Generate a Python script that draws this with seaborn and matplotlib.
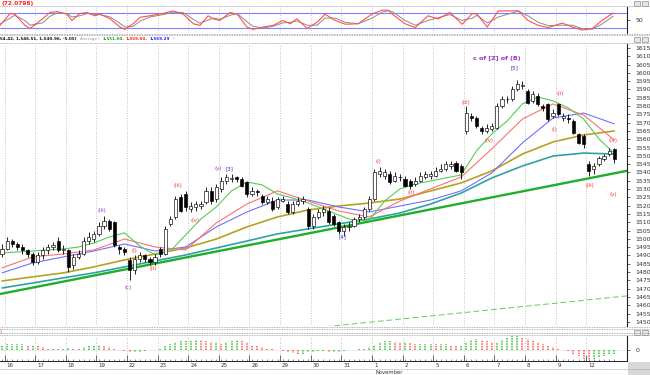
import numpy as np
import pandas as pd
import matplotlib
matplotlib.use("Agg")
import matplotlib.pyplot as plt
from matplotlib.lines import Line2D
from matplotlib.patches import Rectangle
import matplotlib.transforms as mtrans
import seaborn as sns

sns.set_style("white")
plt.rcParams['font.family'] = ['DejaVu Sans']

# ---------------- data ----------------
OPEN = [1491,1494,1499,1497,1495,1493,1491,1486,1490,1493,
        1495,1499,1493,1493,1484,1489,1491,1499,1500,1503,
        1508,1511,1510,1495,1494,1487,1481,1488,1490,1488,
        1486,1494,1491,1509,1513,1525,1527,1518,1519,1520,
        1522,1529,1524,1530,1535,1536,1537,1536,1534,1527,
        1529,1526,1522,1523,1519,1523,1521,1516,1521,1523,
        1518,1508,1513,1516,1517,1514,1510,1505,1507,1508,
        1512,1513,1518,1524,1539,1538,1539,1535,1537,1536,
        1535,1533,1535,1537,1538,1538,1541,1542,1544,1546,
        1544,1565,1574,1573,1567,1565,1566,1567,1580,1584,
        1584,1590,1592,1589,1583,1586,1580,1581,1574,1581,
        1573,1573,1571,1563,1562,1545,1542,1545,1548,1551,1554]
CLOSE = [1494,1499,1497,1495,1493,1491,1486,1490,1493,1495,
         1496,1493,1494,1483,1489,1491,1499,1501,1503,1508,
         1511,1506,1496,1494,1492,1481,1488,1490,1488,1486,
         1489,1491,1506,1512,1524,1517,1519,1520,1521,1521,
         1529,1523,1531,1535,1537,1536,1536,1532,1527,1529,
         1528,1522,1524,1518,1524,1524,1516,1521,1523,1524,
         1508,1513,1516,1518,1510,1509,1505,1507,1508,1512,
         1513,1518,1524,1540,1541,1540,1534,1538,1537,1532,
         1532,1535,1538,1539,1539,1541,1542,1545,1545,1541,
         1540,1576,1573,1568,1565,1567,1568,1580,1584,1584,
         1590,1593,1592,1582,1587,1581,1579,1572,1576,1575,
         1574,1572,1564,1558,1557,1541,1544,1549,1550,1553,1548]
HIGH = [1497,1501,1500,1498,1497,1494,1492,1492,1495,1497,
        1498,1501,1496,1494,1491,1493,1501,1504,1505,1510,
        1514,1512,1511,1496,1495,1489,1490,1492,1491,1489,
        1491,1495,1508,1514,1526,1527,1529,1522,1523,1523,
        1531,1531,1533,1537,1539,1539,1538,1537,1535,1531,
        1530,1527,1526,1525,1525,1526,1523,1523,1525,1526,
        1519,1515,1518,1520,1519,1515,1511,1509,1510,1513,
        1515,1519,1526,1542,1543,1542,1541,1540,1539,1538,
        1536,1537,1540,1541,1541,1543,1545,1547,1547,1547,
        1545,1580,1576,1574,1568,1569,1570,1582,1586,1586,
        1592,1596,1595,1590,1589,1588,1581,1582,1578,1582,
        1576,1575,1572,1564,1563,1547,1546,1550,1551,1555,1555]
LOW = [1489,1493,1495,1493,1491,1489,1484,1485,1488,1491,
       1493,1492,1491,1480,1482,1488,1490,1497,1498,1502,
       1506,1505,1495,1491,1490,1475,1479,1486,1486,1484,
       1484,1489,1490,1508,1512,1516,1517,1516,1517,1518,
       1521,1521,1522,1528,1533,1534,1534,1531,1525,1526,
       1526,1521,1521,1517,1518,1522,1515,1515,1520,1521,
       1506,1506,1512,1514,1509,1508,1503,1502,1505,1507,
       1510,1512,1517,1523,1537,1536,1533,1534,1535,1531,
       1530,1532,1534,1536,1536,1537,1540,1541,1542,1540,
       1536,1563,1571,1567,1563,1564,1565,1566,1579,1582,
       1583,1589,1590,1581,1582,1580,1577,1571,1573,1574,
       1571,1570,1563,1557,1555,1538,1539,1544,1547,1550,1546]

MA_FAST_BARS = list(range(0, 121, 3))
MA_SLOW_BARS = list(range(0, 121, 6))
MA_GREEN = [1491.5,1492.1,1492.7,1493.3,1493.9,1495.1,1497.5,1501.1,1503.6,1495.7,
            1490.3,1492.7,1502.4,1512.0,1519.2,1528.9,1534.3,1532.5,1527.0,1524.6,
            1521.6,1518.0,1514.4,1510.8,1511.4,1522.8,1530.1,1533.1,1534.9,1536.7,
            1538.5,1553.0,1563.2,1571.0,1581.3,1585.5,1583.1,1578.9,1572.2,1560.2,1551.6]
MA_RED = [1482.5,1489.1,1490.9,1493.3,1499.9,1495.1,1493.3,1509.6,1521.0,1528.9,
          1522.8,1516.8,1513.2,1522.8,1530.1,1537.3,1554.2,1572.2,1581.3,1574.6,1559.6]
MA_BLUE = [1479.5,1485.5,1489.1,1492.7,1496.9,1492.7,1495.1,1507.2,1516.2,1523.4,
           1523.4,1519.2,1516.2,1519.8,1523.4,1528.9,1539.7,1557.8,1572.8,1575.8,1569.3]
MA_OLIVE = [1474.6,1477.1,1479.5,1483.1,1487.3,1490.9,1494.5,1499.9,1507.2,1513.2,
            1517.4,1519.8,1521.6,1524.0,1528.9,1533.7,1540.9,1551.1,1558.4,1562.6,1565.0]
MA_TEAL = [1470.4,1473.4,1476.5,1479.5,1483.1,1486.7,1490.3,1494.5,1498.7,1503.0,
           1506.0,1509.0,1512.0,1515.6,1521.0,1527.6,1536.7,1543.9,1549.9,1551.7,1551.1]

TREND_BARS = [-1, 123]
TREND_PRICES = [1466.4, 1541.3]
CHANNEL_BARS = [60, 123]
CHANNEL_PRICES = [1446.0, 1465.8]

OSC_BARS = [-0.4,1.6,2.5,4.5,5.5,8,9.4,10.8,12.7,13.7,15.3,16.7,18.2,19.2,21.2,23.1,24.1,
            25.7,27.1,29,31.6,33.5,35.5,37.5,38.8,40.4,41.4,42.7,44.7,46.1,48,49.2,51.2,
            53.1,55.1,56.5,57.8,59.8,61.8,63.3,65.3,67.3,69.8,72.5,74.5,75.7,76.5,79,81,
            83.5,85.5,87.8,90.2,92.2,93.1,95.1,97.3,101.2,103.1,105.1,107.1,109.8,111.8,
            113.7,115.7,117.6,119.8]
OSC_K = [29,80,77,29,16,58,84,88,77,50,80,84,70,77,57,22,12,
         36,64,70,80,91,77,36,29,70,57,50,84,77,22,12,22,
         29,50,36,57,16,43,77,50,34,36,77,94,94,77,36,20,
         70,57,84,34,80,77,22,91,91,50,29,20,39,22,
         9,16,50,82]
OSC_D = [35,60,72,50,30,40,68,82,80,65,70,80,76,75,65,38,22,
         25,48,65,75,85,84,55,38,52,60,55,72,80,45,25,18,
         25,40,42,48,30,30,60,60,42,36,60,85,92,88,50,30,
         50,62,75,50,60,72,40,65,90,70,42,28,30,30,
         15,13,35,68]

HIST = [4,5,5,5, 5,4,4,3, 2,1,1,0.5,1,1.5,1,0.5, 2,3,4,4, 3,2,1,0,
        -1,-2,-2,-1.5,-1,-0.5,0,0.5, 3,5,6,7,7,7, 8,7.5,7,6,6,5, 6,7,8,7,6,
        4,3,2,1,0.5,0, -1,-2,-2.5,-3,-3,-2,-1.5, -1,-1,-2,-2,-1.5,-1,-0.5,0,0.5,1,
        2,4,6,7,7,6.5,6, 6,5.5,5,5,5,5,4.5,4.5,5,4,3,3, 6,8,9,8,7,6,6,
        8,10,11,11,10,9, 8,6,5,3,2,1,0, -1,-3,-5,-7,-8,-7,-6, -5,-4,-3]

DAY_LABELS = ["16","17","18","19","22","23","24","25","26","29",
              "30","31","1","2","5","6","7","8","9","12"]
PRICE_TICKS = list(range(1450, 1616, 5))

WAVE_LABELS = [
    ("(iii)", 19.6, 1516.8, "#9933cc"), ("(c)", 24.7, 1470.4, "#9933cc"),
    ("(i)", 25.9, 1492.7, "#ff3333"), ("(ii)", 29.6, 1481.9, "#ff3333"),
    ("(iii)", 34.5, 1531.9, "#ff3333"), ("(iv)", 37.8, 1510.8, "#ff3333"),
    ("(v)", 42.3, 1542.1, "#9933cc"), ("[3]", 44.5, 1542.1, "#3333cc"),
    ("[4]", 66.7, 1501.1, "#3333cc"), ("(i)", 73.7, 1546.9, "#ff3333"),
    ("(ii)", 80.2, 1527.7, "#ff3333"), ("(iii)", 91.0, 1581.9, "#ff3333"),
    ("(iv)", 95.5, 1559.0, "#ff3333"), ("[5]", 100.4, 1603.0, "#3333cc"),
    ("(i)", 108.2, 1565.6, "#ff3333"), ("(ii)", 109.4, 1587.3, "#ff3333"),
    ("(iii)", 115.3, 1531.9, "#ff3333"), ("(iv)", 119.8, 1559.0, "#ff3333"),
    ("(v)", 119.8, 1527.0, "#ff3333"),
]
TITLE_WAVE = ("c of [Z] of (B)", 97.0, 1608.4)

# ---------------- layout ----------------
W, H = 650, 375
fig = plt.figure(figsize=(6.5, 3.75), dpi=100)
fig.patch.set_facecolor("white")

def px_axes(x0, y0, x1, y1):
    return fig.add_axes([x0 / W, 1 - y1 / H, (x1 - x0) / W, (y1 - y0) / H])

PLOT_R = 627
XLIM = (-0.39, 122.5)
ax_o = px_axes(0, 7, PLOT_R, 33)
ax = px_axes(0, 44, PLOT_R, 326)
ax_h = px_axes(0, 336, PLOT_R, 361)

n = len(CLOSE)
bars = np.arange(n)
day_starts = [6 * k + 0.5 for k in range(len(DAY_LABELS))]

for a in (ax_o, ax, ax_h):
    a.set_facecolor("white")
    a.set_xlim(*XLIM)
    for s in ("left", "top", "bottom"):
        a.spines[s].set_visible(False)
    a.spines["right"].set_color("#222222")
    a.spines["right"].set_linewidth(0.8)
    a.yaxis.tick_right()
    a.tick_params(axis="y", direction="out", length=2, width=0.5, pad=4,
                  labelsize=4.5, colors="#333333")
    a.tick_params(axis="x", bottom=False, labelbottom=False)
    for d in day_starts:
        a.axvline(d, color="#b0b0b0", lw=0.6, ls=(0, (1, 2)), zorder=0)

# ---- oscillator panel ----
osc = pd.DataFrame({"bar": OSC_BARS, "k": OSC_K, "d": OSC_D})
ax_o.set_ylim(-3.4, 107.5)
ax_o.axhline(80, color="#7f7fff", lw=0.8, zorder=1)
ax_o.axhline(20, color="#7f7fff", lw=0.8, zorder=1)
sns.lineplot(data=osc, x="bar", y="d", ax=ax_o, color="#8c8c8c", lw=0.7, zorder=2)
sns.lineplot(data=osc, x="bar", y="k", ax=ax_o, color="#ff5050", lw=0.8, zorder=3)
ax_o.set_yticks([50])
ax_o.set_yticklabels(["50"])
ax_o.set_xlabel(""); ax_o.set_ylabel("")
ax_o.set_xticks([])

# ---- main price panel ----
ax.set_ylim(1447.5, 1617.4)
ma_fast = pd.DataFrame({"bar": MA_FAST_BARS, "green": MA_GREEN})
ma_slow = pd.DataFrame({"bar": MA_SLOW_BARS, "red": MA_RED, "blue": MA_BLUE,
                        "olive": MA_OLIVE, "teal": MA_TEAL})
trend = pd.DataFrame({"bar": TREND_BARS, "p": TREND_PRICES})
chan = pd.DataFrame({"bar": CHANNEL_BARS, "p": CHANNEL_PRICES})

sns.lineplot(data=trend, x="bar", y="p", ax=ax, color="#1fae2a", lw=1.7, zorder=2)
sns.lineplot(data=chan, x="bar", y="p", ax=ax, color="#5fcf5f", lw=0.7,
             ls=(0, (6, 3)), zorder=2)
sns.lineplot(data=ma_slow, x="bar", y="teal", ax=ax, color="#2fa3a3", lw=1.2, zorder=2)
sns.lineplot(data=ma_slow, x="bar", y="olive", ax=ax, color="#b8a020", lw=1.2, zorder=2)
sns.lineplot(data=ma_slow, x="bar", y="blue", ax=ax, color="#7070ff", lw=0.8, zorder=2)
sns.lineplot(data=ma_slow, x="bar", y="red", ax=ax, color="#ff7070", lw=0.8, zorder=2)
sns.lineplot(data=ma_fast, x="bar", y="green", ax=ax, color="#55cc55", lw=0.8, zorder=2)

o = np.array(OPEN, float); c = np.array(CLOSE, float)
hi = np.array(HIGH, float); lo = np.array(LOW, float)
ax.vlines(bars, lo, hi, color="black", lw=0.6, zorder=3)
body_bottom = np.minimum(o, c)
body_h = np.maximum(np.abs(c - o), 0.4)
face = ["black" if cc < oo else "white" for oo, cc in zip(o, c)]
ax.bar(bars, body_h, bottom=body_bottom, width=0.62, color=face,
       edgecolor="black", linewidth=0.45, zorder=4)

for txt, bx, py, col in WAVE_LABELS:
    ax.text(bx, py, txt, color=col, fontsize=4, ha="center", va="center", zorder=5)
ax.text(TITLE_WAVE[1], TITLE_WAVE[2], TITLE_WAVE[0], color="#9933cc", fontsize=4.6,
        fontweight="bold", ha="center", va="center", zorder=5)

ax.set_yticks(PRICE_TICKS)
ax.set_yticklabels([str(t) for t in PRICE_TICKS])
ax.set_xlabel(""); ax.set_ylabel("")
ax.set_xticks([])

# ---- histogram panel ----
hist = np.array(HIST, float)
ax_h.set_ylim(-9, 11)
prev = np.concatenate([[hist[0]], hist[:-1]])
hcols = np.where(hist >= prev, "#2fbf2f", "#ff5050")
ax_h.vlines(bars, 0, hist, colors=hcols, lw=1.1, linestyles=(0, (1, 0.7)), zorder=2)
sns.lineplot(x=[XLIM[0], XLIM[1]], y=[0, 0], ax=ax_h, color="#dddddd", lw=0.4, zorder=1)
ax_h.set_yticks([0])
ax_h.set_yticklabels(["0"])
ax_h.set_ylabel("")
ax_h.spines["bottom"].set_visible(True)
ax_h.spines["bottom"].set_color("#222222")
ax_h.spines["bottom"].set_linewidth(0.7)
ax_h.set_xticks(day_starts)
ax_h.set_xticks(bars, minor=True)
ax_h.set_xticklabels(DAY_LABELS)
ax_h.tick_params(axis="x", which="major", bottom=True, labelbottom=True, direction="in",
                 length=4, width=0.5, labelsize=4, pad=1.5, colors="#333333")
ax_h.tick_params(axis="x", which="minor", bottom=True, direction="in", length=1.8,
                 width=0.4, colors="#333333")
offset = mtrans.ScaledTranslation(2 / 100, 0, fig.dpi_scale_trans)
for lab in ax_h.get_xticklabels():
    lab.set_horizontalalignment("left")
    lab.set_transform(lab.get_transform() + offset)
ax_h.set_xlim(*XLIM)

# ---- figure decorations ----
def hline(y, x0=0, x1=W, style=(0, (1, 1)), col="#9a9a9a", lw=0.6):
    fig.add_artist(Line2D([x0 / W, x1 / W], [1 - y / H, 1 - y / H], color=col,
                          lw=lw, ls=style, transform=fig.transFigure))

for y in (6, 33.5, 35, 43, 327, 329, 333, 335, 368.5):
    hline(y)

fig.text(1 / W, 1 - 0.5 / H, "(72.0798)", color="#ff2020", fontsize=4.2,
         ha="left", va="top", fontweight="bold")
ty = 1 - 39 / H
HS = 3.0
fig.text(0 / W, ty, "54.42, 1,546.51, 1,540.96, -5.05)", color="#111111", fontsize=HS,
         ha="left", va="center", fontweight="bold")
fig.text(80 / W, ty, "Average (", color="#9a9a9a", fontsize=HS, ha="left", va="center")
fig.text(103 / W, ty, "1,551.60,", color="#1aa01a", fontsize=HS, ha="left",
         va="center", fontweight="bold")
fig.text(126 / W, ty, "1,559.60,", color="#ff2020", fontsize=HS, ha="left",
         va="center", fontweight="bold")
fig.text(150 / W, ty, "1,569.29", color="#2020ff", fontsize=HS, ha="left",
         va="center", fontweight="bold")
fig.text(173 / W, ty, ")", color="#9a9a9a", fontsize=HS, ha="left", va="center")
fig.text(0 / W, 1 - 331 / H, ")", color="#ff2020", fontsize=3.5, ha="left", va="center")
fig.text(376 / W, 1 - 372 / H, "November", color="#333333", fontsize=3.8,
         ha="left", va="center")

for yy in (1, 36.5, 330):
    for xx in (634, 642):
        fig.add_artist(Rectangle((xx / W, 1 - (yy + 5) / H), 6 / W, 5 / H,
                                 transform=fig.transFigure, facecolor="#e6e6e6",
                                 edgecolor="#777777", lw=0.4))
fig.add_artist(Rectangle((628 / W, 0), 22 / W, 13 / H, transform=fig.transFigure,
                         facecolor="#d8d8d8", edgecolor="none", hatch="xxxx",
                         lw=0))

fig.savefig("out.png", dpi=100, facecolor="white")
